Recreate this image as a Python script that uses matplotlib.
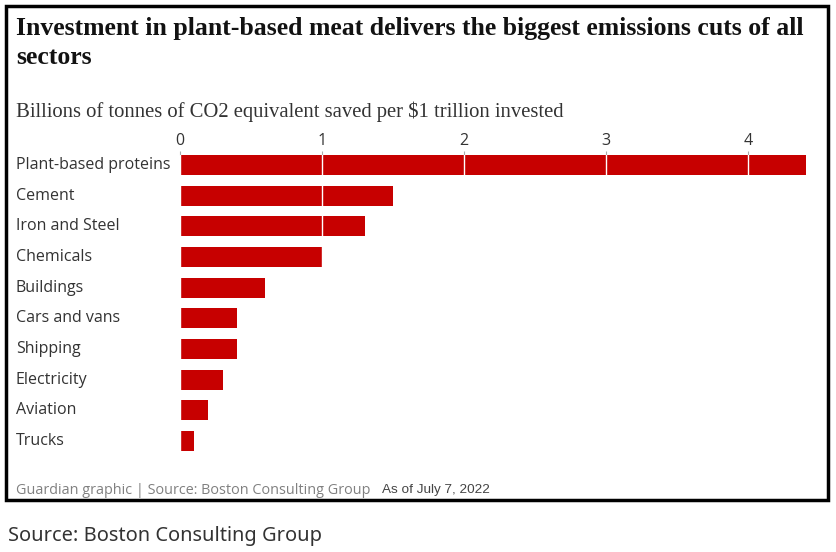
import matplotlib.pyplot as plt
from matplotlib.patches import Rectangle

W, H = 837, 552

sectors = ["Plant-based proteins", "Cement", "Iron and Steel", "Chemicals", "Buildings",
           "Cars and vans", "Shipping", "Electricity", "Aviation", "Trucks"]
savings = [4.41, 1.5, 1.3, 1.0, 0.6, 0.4, 0.4, 0.3, 0.2, 0.1]
ticks = [0, 1, 2, 3, 4]

title_lines = ["Investment in plant-based meat delivers the biggest emissions cuts of all",
               "sectors"]
subtitle = "Billions of tonnes of CO2 equivalent saved per $1 trillion invested"

RED = "#c70000"
BAR_H = 0.65

def fx(px):
    return px / W

def fy(py):
    return 1 - py / H

fig = plt.figure(figsize=(W / 100, H / 100), dpi=100)

# axes placed in pixel terms: x=0 at 180px, 142px per unit, rows 30.67px apart
x0, unit = 180, 142
right = 820
row = 30.67
first = 165
top = first - row * BAR_H / 2
bottom = first + row * (len(sectors) - 1) + row * BAR_H / 2
ax = fig.add_axes([fx(x0), fy(bottom), fx(right - x0), (bottom - top) / H])
ax.set_xlim(0, (right - x0) / unit)
ax.set_ylim(len(sectors) - 1 + BAR_H / 2, -BAR_H / 2)

ypos = list(range(len(sectors)))
ax.barh(ypos, savings, height=BAR_H, color=RED, zorder=2)
for t in ticks:
    ax.axvline(t, color="white", linewidth=1, zorder=3)

ax.set_xticks(ticks)
ax.set_xticklabels([str(t) for t in ticks], fontsize=11.5, color="#333333", family="Open Sans")
ax.xaxis.tick_top()
ax.tick_params(axis="x", length=3, width=0.8, color="#aaaaaa", pad=1.5)
ax.set_yticks([])
for s in ax.spines.values():
    s.set_visible(False)

for i, name in enumerate(sectors):
    fig.text(fx(16), fy(first + i * row), name, fontsize=11.5, color="#333333",
             family="Open Sans", va="center", ha="left")

for i, line in enumerate(title_lines):
    fig.text(fx(16), fy(29 + i * 29), line, fontsize=18.5, fontweight="bold",
             family="Liberation Serif", color="#121212", va="center", ha="left")
fig.text(fx(16), fy(112), subtitle, fontsize=14.9, family="Liberation Serif",
         color="#333333", va="center", ha="left")

fig.text(fx(16), fy(490), "Guardian graphic | Source: Boston Consulting Group", fontsize=10.4,
         family="Open Sans", color="#808080", va="center", ha="left")
fig.text(fx(382), fy(490), "As of July 7, 2022", fontsize=9.7, family="Liberation Sans",
         color="#444444", va="center", ha="left")

fig.patches.append(Rectangle((fx(6.5), fy(500)), fx(828 - 6.5), (500 - 5.5) / H,
                             transform=fig.transFigure, fill=False, edgecolor="black",
                             linewidth=2.5))

fig.text(fx(8), fy(536), "Source: Boston Consulting Group", fontsize=14.4, family="Noto Sans",
         color="#333333", va="center", ha="left")

fig.savefig("out.png", dpi=100, facecolor="white")
